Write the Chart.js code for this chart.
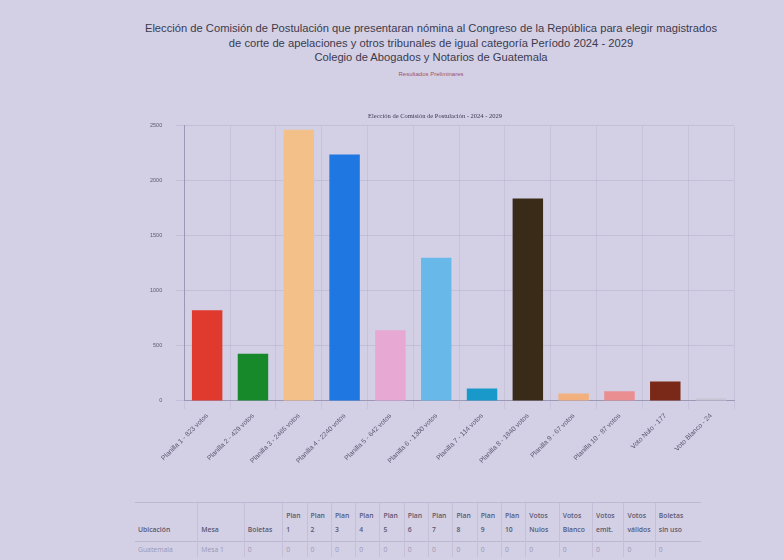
<!DOCTYPE html>
<html>
<head>
<meta charset="utf-8">
<script src="https://cdn.jsdelivr.net/npm/chart.js@4.4.1/dist/chart.umd.min.js"></script>
<style>
    html, body { margin: 0; padding: 0; }
    body {
        width: 784px; height: 560px; overflow: hidden; position: relative;
        background: #d3d0e6;
        font-family: "Liberation Sans", Arial, sans-serif;
    }
    .head { position: absolute; left: 0; width: 862px; top: 21px; text-align: center; color: #3b3a4c; }
    .head .t { font-size: 11.2px; line-height: 14.5px; }
    .head .s { font-size: 6px; color: #a0506a; margin-top: 6px; }
    .wrap { position: absolute; left: 134px; top: 100px; width: 606px; height: 368px; }
    table { position: absolute; left: 135px; top: 502px; width: 566px; border-collapse: collapse; table-layout: fixed;
            font-family: "Open Sans", sans-serif; font-size: 6.8px; color: #5a5870; }
    th { font-weight: 600; text-align: left; vertical-align: bottom; padding: 6px 3px 4px; border-top: 1px solid #bcb8d2;
         border-left: 1px solid #c4c0da; line-height: 14px; }
    td { padding: 3px; color: #9a97b2; border-top: 1px solid #bcb8d2; border-left: 1px solid #c4c0da; }
    tr > *:first-child { border-left: none; }
</style>
</head>
<body>
<div class="head">
    <div class="t">Elección de Comisión de Postulación que presentaran nómina al Congreso de la República para elegir magistrados</div>
    <div class="t">de corte de apelaciones y otros tribunales de igual categoría Período 2024 - 2029</div>
    <div class="t">Colegio de Abogados y Notarios de Guatemala</div>
    <div class="s">Resultados Preliminares</div>
</div>
<div class="wrap"><canvas id="c"></canvas></div>
<table id="tbl"></table>
<script>
    const labels = ['Planilla 1 - 823 votos', 'Planilla 2 - 429 votos', 'Planilla 3 - 2465 votos', 'Planilla 4 - 2240 votos',
        'Planilla 5 - 642 votos', 'Planilla 6 - 1300 votos', 'Planilla 7 - 114 votos', 'Planilla 8 - 1840 votos',
        'Planilla 9 - 67 votos', 'Planilla 10 - 87 votos', 'Voto Nulo - 177', 'Voto Blanco - 24'];
    const votos = [823, 429, 2465, 2240, 642, 1300, 114, 1840, 67, 87, 177, 24];
    const colores = ['#e0392e', '#17892b', '#f3c089', '#1f78e2', '#e7a8d4', '#69b8ea', '#1999c9', '#3a2a18',
        '#f2b07e', '#ea8e92', '#7a2818', '#c8c6d6'];
    const yTicks = [0, 500, 1000, 1500, 2000, 2500];

    const colNames = ['Ubicación', 'Mesa', 'Boletas', 'Plan 1', 'Plan 2', 'Plan 3', 'Plan 4', 'Plan 5', 'Plan 6', 'Plan 7',
        'Plan 8', 'Plan 9', 'Plan 10', 'Votos Nulos', 'Votos Blanco', 'Votos emit.', 'Votos válidos', 'Boletas<br>sin uso'];
    const fila = ['Guatemala', 'Mesa 1', 0, 0, 0, 0, 0, 0, 0, 0, 0, 0, 0, 0, 0, 0, 0, 0];
    const colW = [62, 46, 38, 24, 24, 24, 24, 24, 24, 24, 24, 24, 24, 33, 33, 31, 31, 45];

    // tabla
    let tbl = document.getElementById('tbl');
    let html = '<colgroup>' + colW.map(w => `<col style="width:${w}px">`).join('') + '</colgroup>';
    html += '<tr>' + colNames.map(n => `<th>${n}</th>`).join('') + '</tr>';
    html += '<tr>' + fila.map(v => `<td>${v}</td>`).join('') + '</tr>';
    tbl.innerHTML = html;

    new Chart(document.getElementById('c'), {
        type: 'bar',
        data: {
            labels: labels,
            datasets: [{
                data: votos,
                backgroundColor: colores,
                borderWidth: 0,
                barPercentage: 0.7,
                categoryPercentage: 0.95
            }]
        },
        options: {
            responsive: true,
            maintainAspectRatio: false,
            animation: false,
            layout: {padding: {left: 2, right: 6, top: 4, bottom: 0}},
            plugins: {
                legend: {display: false},
                tooltip: {enabled: false},
                title: {
                    display: true,
                    text: 'Elección de Comisión de Postulación - 2024 - 2029',
                    color: '#3a3850',
                    font: {family: 'Liberation Serif', size: 6.5, weight: 'normal'},
                    padding: {top: 8, bottom: 6}
                }
            },
            scales: {
                x: {
                    grid: {color: 'rgba(170,166,196,0.3)'},
                    border: {color: '#9b98b6'},
                    ticks: {
                        color: '#5a5872', font: {size: 6.8}, maxRotation: 45, minRotation: 45, autoSkip: false
                    }
                },
                y: {
                    min: 0, max: 2500,
                    afterBuildTicks: (s) => { s.ticks = yTicks.map(v => ({value: v})); },
                    grid: {color: 'rgba(170,166,196,0.4)'},
                    border: {color: '#9b98b6'},
                    ticks: {color: '#5a5872', font: {size: 5.5}, padding: 14, callback: (v) => String(v)}
                }
            }
        }
    });
</script>
</body>
</html>
